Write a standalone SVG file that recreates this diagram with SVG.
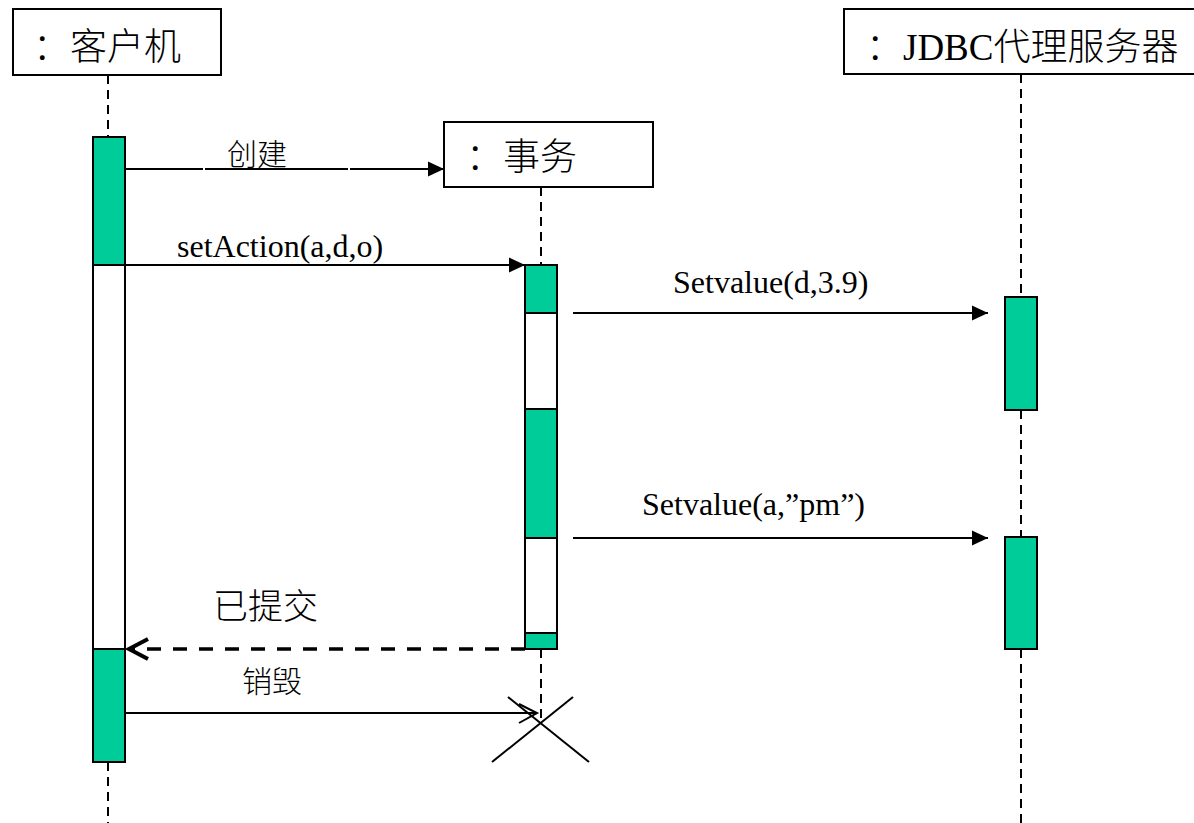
<svg xmlns="http://www.w3.org/2000/svg" width="1194" height="823" viewBox="0 0 1194 823">
<style>
.box{fill:#fff;stroke:#000;stroke-width:2}
.act{fill:#00CC99;stroke:#000;stroke-width:2}
.wact{fill:#fff;stroke:#000;stroke-width:2}
.life{stroke:#000;stroke-width:2;stroke-dasharray:9 6;fill:none}
.msg{stroke:#000;stroke-width:2;fill:none}
.ret{stroke:#000;stroke-width:3.5;stroke-dasharray:14 12;fill:none}
.t{font-family:"Liberation Serif","Noto Sans CJK SC",serif;fill:#000}
.cn{font-family:"Noto Sans CJK SC","Liberation Serif",sans-serif;font-weight:300;fill:#000}
.lt{font-weight:300}
</style>
<defs>
<marker id="fill" markerWidth="16" markerHeight="16" refX="16" refY="8" orient="auto" markerUnits="userSpaceOnUse">
<path d="M0,0.5 L16,8 L0,15.5 Z" fill="#000"/>
</marker>
</defs>
<rect width="1194" height="823" fill="#fff"/>
<g id="lifelines">
<line class="life" x1="108" y1="75" x2="108" y2="137"/>
<line class="life" x1="108" y1="762" x2="108" y2="823"/>
<line class="life" x1="541" y1="187" x2="541" y2="265"/>
<line class="life" x1="541" y1="649" x2="541" y2="723"/>
<line class="life" x1="1021" y1="74" x2="1021" y2="297"/>
<line class="life" x1="1021" y1="410" x2="1021" y2="537"/>
<line class="life" x1="1021" y1="649" x2="1021" y2="823"/>
</g>
<g id="client">
<rect class="box" x="13" y="9" width="208" height="66"/>
<text class="t lt" x="33" y="60" font-size="37">：客户机</text>
<rect class="act" x="93" y="137" width="32" height="128"/>
<rect class="wact" x="93" y="265" width="32" height="384"/>
<rect class="act" x="93" y="649" width="32" height="113"/>
</g>
<g id="transaction">
<rect class="box" x="444" y="122" width="209" height="65"/>
<text class="t lt" x="466" y="170" font-size="37">：事务</text>
<rect class="act" x="525" y="265" width="32" height="48"/>
<rect class="wact" x="525" y="313" width="32" height="96"/>
<rect class="act" x="525" y="409" width="32" height="129"/>
<rect class="wact" x="525" y="538" width="32" height="95"/>
<rect class="act" x="525" y="633" width="32" height="16"/>
</g>
<g id="jdbc">
<rect class="box" x="844" y="9" width="360" height="65"/>
<text class="t lt" x="866" y="60" font-size="37">：JDBC代理服务器</text>
<rect class="act" x="1005" y="297" width="32" height="113"/>
<rect class="act" x="1005" y="537" width="32" height="112"/>
</g>
<g id="connectors">
<line class="msg" x1="125" y1="169" x2="203" y2="169"/>
<line class="msg" x1="205" y1="169" x2="348" y2="169"/>
<line class="msg" x1="350" y1="169" x2="444" y2="169" marker-end="url(#fill)"/>
<text class="cn" x="227" y="165" font-size="30">创建</text>
<line class="msg" x1="125" y1="265" x2="525" y2="265" marker-end="url(#fill)"/>
<text class="t" x="177" y="257" font-size="32">setAction(a,d,o)</text>
<line class="msg" x1="573" y1="313" x2="988" y2="313" marker-end="url(#fill)"/>
<text class="t" x="673" y="293" font-size="32">Setvalue(d,3.9)</text>
<line class="msg" x1="573" y1="538" x2="988" y2="538" marker-end="url(#fill)"/>
<text class="t" x="642" y="515" font-size="32">Setvalue(a,”pm”)</text>
<line class="ret" x1="525" y1="649" x2="132" y2="649"/>
<polyline points="148,639 129,649 148,659" fill="none" stroke="#000" stroke-width="4"/>
<text class="cn" x="213" y="619" font-size="35">已提交</text>
<line class="msg" x1="125" y1="713" x2="537" y2="713"/>
<polyline points="519,704 537,713 519,723" fill="none" stroke="#000" stroke-width="2"/>
<text class="cn" x="242" y="692" font-size="30">销毁</text>
<line class="msg" x1="508" y1="697" x2="589" y2="762"/>
<line class="msg" x1="573" y1="697" x2="492" y2="762"/>
</g>
</svg>
